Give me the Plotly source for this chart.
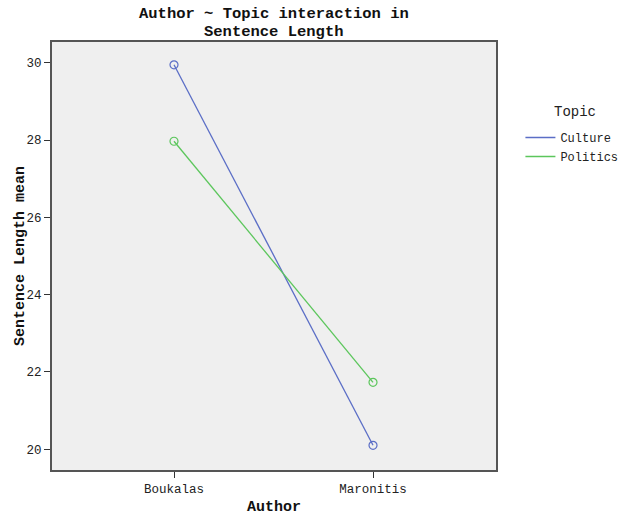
import plotly.graph_objects as go

authors = ["Boukalas", "Maronitis"]
culture = [29.95, 20.1]
politics = [27.97, 21.73]
y_ticks = [20, 22, 24, 26, 28, 30]
title_lines = ["Author ~ Topic interaction in", "Sentence Length"]
series = [("Culture", culture, "#5b6ec6"), ("Politics", politics, "#5cc65c")]

mono = "Liberation Mono, Courier New, monospace"
x_idx = list(range(len(authors)))
PW = 444.0  # plot width px
PH = 428.0  # plot height px

fig = go.Figure()
for name, vals, col in series:
    fig.add_trace(go.Scatter(x=x_idx, y=vals, name=name, mode="lines+markers", showlegend=False,
                             line=dict(color=col, width=1.3),
                             marker=dict(symbol="circle-open", size=8, color=col, line=dict(width=1.2))))
for name, vals, col in series:
    fig.add_trace(go.Scatter(x=[None], y=[None], name=name, mode="lines",
                             line=dict(color=col, width=1.5)))

for i, t in enumerate(title_lines):
    fig.add_annotation(text="<b>%s</b>" % t, xref="paper", yref="paper",
                       x=(274 - 52) / PW, y=1, yanchor="bottom", xanchor="center",
                       yshift=0 + (1 - i) * 18, showarrow=False, borderpad=0,
                       font=dict(family=mono, size=15.5, color="#111"))

# y axis title
fig.add_annotation(text="<b>Sentence Length mean</b>", xref="paper", yref="paper",
                   x=(20 - 52) / PW, y=0.5, xanchor="center", yanchor="middle",
                   textangle=-90, showarrow=False,
                   font=dict(family=mono, size=15, color="#111"))
# legend title
fig.add_annotation(text="Topic", xref="paper", yref="paper",
                   x=(575 - 52) / PW, y=1 - (112 - 42) / PH, xanchor="center", yanchor="middle",
                   showarrow=False, font=dict(family=mono, size=14, color="#222"))

fig.update_layout(
    width=631, height=516,
    margin=dict(l=52, r=135, t=42, b=46, autoexpand=False),
    paper_bgcolor="white", plot_bgcolor="#efefef",
    font=dict(family=mono, size=12, color="#222"),
    legend=dict(x=1.055, xanchor="left", y=1 - (123 - 42) / PH, yanchor="top",
                font=dict(family=mono, size=12), bgcolor="rgba(0,0,0,0)",
                itemwidth=30, tracegroupgap=0),
    showlegend=True,
)
fig.update_xaxes(range=[-0.613, 1.618], tickvals=x_idx, ticktext=authors, automargin=False,
                 showgrid=False, zeroline=False, ticks="outside", ticklen=6, tickcolor="#333",
                 showline=True, linecolor="#555", linewidth=2, mirror=True,
                 tickfont=dict(family=mono, size=12.5, color="#222"),
                 title=dict(text="<b>Author</b>", font=dict(family=mono, size=15, color="#111"), standoff=24))
fig.update_yaxes(range=[19.46, 30.54], tickvals=y_ticks, automargin=False,
                 showgrid=False, zeroline=False, ticks="outside", ticklen=6, tickcolor="#333",
                 showline=True, linecolor="#555", linewidth=2, mirror=True,
                 tickfont=dict(family=mono, size=12.5, color="#222"))

fig.write_html("out.html")
